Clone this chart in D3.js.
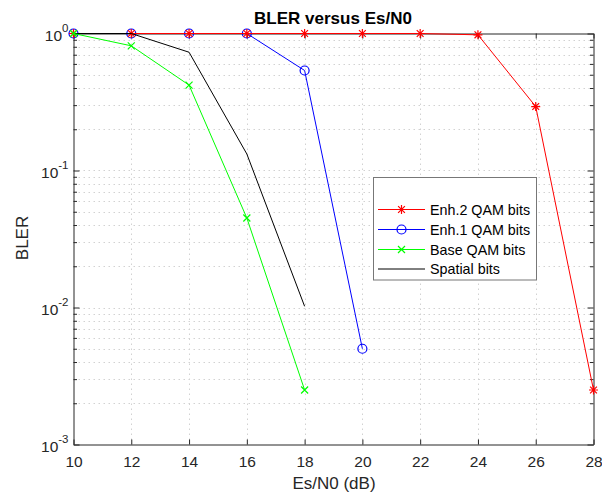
<!DOCTYPE html>
<html>
<head>
<meta charset="utf-8">
<script src="https://cdn.jsdelivr.net/npm/d3@7"></script>
<style>
  html, body { margin: 0; padding: 0; background: #fff; }
  svg { display: block; font-family: "Liberation Sans", Arial, sans-serif; }
</style>
</head>
<body>
<svg id="chart" width="602" height="492"></svg>
<script>
// ---- data ----
const snrEnh2 = [10, 12, 14, 16, 18, 20, 22, 24, 26, 28];
const bleEnh2 = [1, 1, 1, 1, 1, 1, 1, 0.978, 0.293, 0.0025];
const snrEnh1 = [10, 12, 14, 16, 18, 20];
const bleEnh1 = [1, 1, 1, 1, 0.537, 0.005];
const snrBase = [10, 12, 14, 16, 18];
const bleBase = [1, 0.813, 0.42, 0.045, 0.0025];
const snrSpatial = [10, 12, 14, 16, 18];
const bleSpatial = [1, 1, 0.73, 0.132, 0.0102];
const seriesNames = ["Enh.2 QAM bits", "Enh.1 QAM bits", "Base QAM bits", "Spatial bits"];
const xTicks = [10, 12, 14, 16, 18, 20, 22, 24, 26, 28];
const yMajorTicks = [1e-3, 1e-2, 1e-1, 1];
const yTickExponents = ["-3", "-2", "-1", "0"];
const titleText = "BLER versus Es/N0";
const xLabelText = "Es/N0 (dB)";
const yLabelText = "BLER";

// ---- layout ----
const L = 73.5, R = 593.5, T = 33.5, B = 444.5;
const svg = d3.select("#chart");
const axisColor = "#262626";

const x = d3.scaleLinear().domain([10, 28]).range([L, R]);
const y = d3.scaleLog().domain([1e-3, 1]).range([B, T]);

const yMinor = [];
for (let e = -3; e < 0; e++) {
  for (let m = 2; m <= 9; m++) yMinor.push(m * Math.pow(10, e));
}

// grid
const grid = svg.append("g").attr("stroke", "#d2d2d2").attr("stroke-width", 1)
  .attr("stroke-dasharray", "1.5,3.5");
grid.selectAll("line.v").data(xTicks.slice(1, -1)).join("line")
  .attr("x1", d => Math.round(x(d)) + 0.5).attr("x2", d => Math.round(x(d)) + 0.5)
  .attr("y1", T).attr("y2", B);
grid.selectAll("line.h").data(yMinor.concat(yMajorTicks.slice(1, -1))).join("line")
  .attr("x1", L).attr("x2", R)
  .attr("y1", d => Math.round(y(d)) + 0.5).attr("y2", d => Math.round(y(d)) + 0.5);

// axes
function styleAxis(g) {
  g.selectAll("path.domain").attr("stroke", axisColor);
  g.selectAll(".tick line").attr("stroke", axisColor);
  g.selectAll(".tick text").attr("fill", axisColor);
}
svg.append("g").attr("transform", `translate(0,${B})`)
  .call(d3.axisBottom(x).tickValues(xTicks).tickSizeInner(-5).tickSizeOuter(0).tickPadding(11)
    .tickFormat(d3.format("d")))
  .call(g => g.selectAll("text").attr("font-size", 15.5).attr("font-family", "Liberation Sans, Arial, sans-serif"))
  .call(styleAxis);
svg.append("g").attr("transform", `translate(0,${T})`)
  .call(d3.axisTop(x).tickValues(xTicks).tickSizeInner(-5).tickSizeOuter(0).tickFormat(""))
  .call(styleAxis);

svg.append("g").attr("transform", `translate(${L},0)`)
  .call(d3.axisLeft(y).tickValues(yMajorTicks).tickSizeInner(-6).tickSizeOuter(0).tickFormat(""))
  .call(styleAxis);
svg.append("g").attr("transform", `translate(${L},0)`)
  .call(d3.axisLeft(y).tickValues(yMinor).tickSizeInner(-3.5).tickSizeOuter(0).tickFormat(""))
  .call(g => g.select(".domain").remove())
  .call(styleAxis);
svg.append("g").attr("transform", `translate(${R},0)`)
  .call(d3.axisRight(y).tickValues(yMajorTicks).tickSizeInner(-6).tickSizeOuter(0).tickFormat(""))
  .call(styleAxis);
svg.append("g").attr("transform", `translate(${R},0)`)
  .call(d3.axisRight(y).tickValues(yMinor).tickSizeInner(-3.5).tickSizeOuter(0).tickFormat(""))
  .call(g => g.select(".domain").remove())
  .call(styleAxis);

// y tick labels with superscripts
const ylab = svg.append("g").attr("fill", axisColor);
yMajorTicks.forEach((v, i) => {
  const t = ylab.append("text").attr("x", 68.5).attr("y", y(v) + 7.5)
    .attr("text-anchor", "end").attr("font-size", 15.5);
  t.append("tspan").text("10");
  t.append("tspan").attr("dy", -9).attr("font-size", 11.5).text(yTickExponents[i]);
});

// series
const series = [
  { xs: snrEnh1, ys: bleEnh1, color: "#0000ff", marker: "circle", name: seriesNames[1] },
  { xs: snrEnh2, ys: bleEnh2, color: "#ff0000", marker: "star", name: seriesNames[0] },
  { xs: snrSpatial, ys: bleSpatial, color: "#000000", marker: "none", name: seriesNames[3] },
  { xs: snrBase, ys: bleBase, color: "#00ff00", marker: "x", name: seriesNames[2] }
];
const line = d3.line().x(d => x(d[0])).y(d => y(d[1]));

function drawMarker(g, type, cx, cy, color) {
  if (type === "circle") {
    g.append("circle").attr("cx", cx).attr("cy", cy).attr("r", 4.5)
      .attr("fill", "none").attr("stroke", color).attr("stroke-width", 1.2);
  } else if (type === "star") {
    const s = 4.5, d = 3.4;
    g.append("path")
      .attr("d", `M${cx - s},${cy}L${cx + s},${cy}M${cx},${cy - s}L${cx},${cy + s}` +
        `M${cx - d},${cy - d}L${cx + d},${cy + d}M${cx - d},${cy + d}L${cx + d},${cy - d}`)
      .attr("stroke", color).attr("stroke-width", 1.2).attr("fill", "none");
  } else if (type === "x") {
    const d = 3.5;
    g.append("path")
      .attr("d", `M${cx - d},${cy - d}L${cx + d},${cy + d}M${cx - d},${cy + d}L${cx + d},${cy - d}`)
      .attr("stroke", color).attr("stroke-width", 1.2).attr("fill", "none");
  }
}

series.forEach(s => {
  const pts = s.xs.map((v, i) => [v, s.ys[i]]);
  const g = svg.append("g");
  g.append("path").datum(pts).attr("d", line).attr("fill", "none")
    .attr("stroke", s.color).attr("stroke-width", 1);
  pts.forEach(p => drawMarker(g, s.marker, x(p[0]), y(p[1]), s.color));
});

// legend
const lg = svg.append("g");
lg.append("rect").attr("x", 373.5).attr("y", 177.5).attr("width", 163).attr("height", 102.5)
  .attr("fill", "#fff").attr("stroke", "#777").attr("stroke-width", 1);
const legendOrder = [
  { name: seriesNames[0], color: "#ff0000", marker: "star" },
  { name: seriesNames[1], color: "#0000ff", marker: "circle" },
  { name: seriesNames[2], color: "#00ff00", marker: "x" },
  { name: seriesNames[3], color: "#000000", marker: "none" }
];
const legendY = [209.5, 229.5, 249.5, 269];
legendOrder.forEach((s, i) => {
  const yy = legendY[i];
  lg.append("line").attr("x1", 378).attr("x2", 425).attr("y1", yy).attr("y2", yy)
    .attr("stroke", s.color).attr("stroke-width", 1);
  drawMarker(lg, s.marker, 401.5, yy, s.color);
  lg.append("text").attr("x", 430).attr("y", yy + 5).attr("font-size", 14.3)
    .attr("fill", "#000").text(s.name);
});

// labels
svg.append("text").attr("x", 333).attr("y", 24).attr("text-anchor", "middle")
  .attr("font-size", 17).attr("font-weight", "bold").attr("fill", "#000").text(titleText);
svg.append("text").attr("x", 334).attr("y", 489).attr("text-anchor", "middle")
  .attr("font-size", 17).attr("fill", axisColor).text(xLabelText);
svg.append("text").attr("transform", "translate(28,238) rotate(-90)").attr("text-anchor", "middle")
  .attr("font-size", 17).attr("fill", axisColor).text(yLabelText);
</script>
</body>
</html>
